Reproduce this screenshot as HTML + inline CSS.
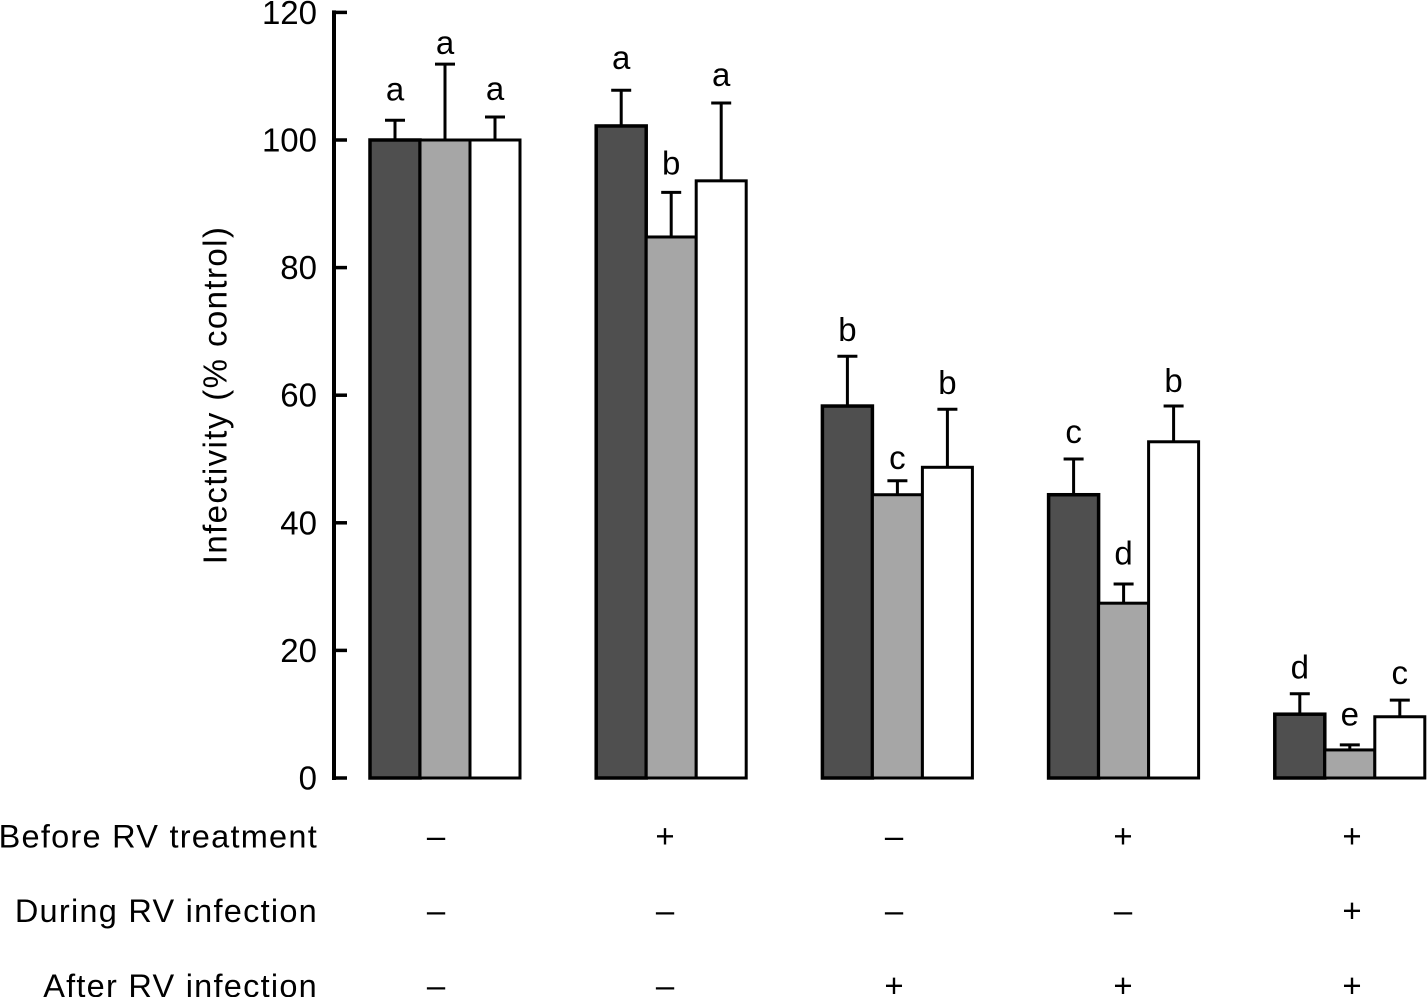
<!DOCTYPE html>
<html lang="en">
<head>
<meta charset="utf-8">
<title>Infectivity chart</title>
<style>
html,body{margin:0;padding:0;background:#fff;width:1427px;height:997px;overflow:hidden}
svg{display:block}
text{font-family:"Liberation Sans",sans-serif;fill:#000}
</style>
</head>
<body>
<svg id="chart" width="1427" height="997" viewBox="0 0 1427 997" xmlns="http://www.w3.org/2000/svg"></svg>
<script>
const yTicks = [0, 20, 40, 60, 80, 100, 120];
const seriesNames = ['dark', 'grey', 'white'];
const seriesA = [100, 102.2, 58.3, 44.4, 10];
const seriesB = [100, 84.8, 44.4, 27.4, 4.4];
const seriesC = [100, 93.6, 48.7, 52.7, 9.6];
const errorTopA = [103.1, 107.8, 66.1, 50, 13.2];
const errorTopB = [111.9, 91.8, 46.6, 30.4, 5.2];
const errorTopC = [103.6, 105.8, 57.8, 58.3, 12.2];
const lettersA = ['a', 'a', 'b', 'c', 'd'];
const lettersB = ['a', 'b', 'c', 'd', 'e'];
const lettersC = ['a', 'a', 'b', 'b', 'c'];
const letterLevelA = [106.2, 111.1, 68.5, 52.5, 15.6];
const letterLevelB = [113.5, 94.6, 48.4, 33.5, 8.2];
const letterLevelC = [106.3, 108.5, 60.2, 60.5, 14.7];
const rowLabels = ['Before RV treatment', 'During RV infection', 'After RV infection'];
const beforeRow = ['–', '+', '–', '+', '+'];
const duringRow = ['–', '–', '–', '–', '+'];
const afterRow = ['–', '–', '+', '+', '+'];
const yAxisTitle = 'Infectivity (% control)';

const svg = document.getElementById('chart');
const NS = 'http://www.w3.org/2000/svg';
function make(tag, attrs, parent) {
  const el = document.createElementNS(NS, tag);
  for (const k in attrs) el.setAttribute(k, attrs[k]);
  (parent || svg).appendChild(el);
  return el;
}
const yScale = v => 778 - v * 6.38;
const groupLeft = i => 370 + i * 226.2;
const barLeft = (g, s) => groupLeft(g) + s * 50;
const symbolX = i => 436 + i * 229;
const rowY = r => 847.5 + r * 74.7;

// y axis
const axisGroup = make('g', {});


const axisLine = make('line', {x1: 334, x2: 334, y1: yScale(120) - 2, y2: yScale(0) + 2, stroke: '#000', 'stroke-width': 4}, axisGroup);


yTicks.forEach(t => {
  const tick = make('line', {x1: 334, x2: 347, y1: yScale(t), y2: yScale(t), stroke: '#000', 'stroke-width': 3.5}, axisGroup);
  
  
  const label = make('text', {x: 317, y: yScale(t) + 11.5, 'text-anchor': 'end', 'font-size': 33}, axisGroup);
  
  
  label.textContent = t;
});
const title = make('text', {transform: 'translate(226.5 395) rotate(-90)', 'text-anchor': 'middle', 'font-size': 33, 'letter-spacing': '1.4'}, svg);


title.textContent = yAxisTitle;

// bars
const seriesValues = [seriesA, seriesB, seriesC];
const errorTops = [errorTopA, errorTopB, errorTopC];
const letterSets = [lettersA, lettersB, lettersC];
const letterLevels = [letterLevelA, letterLevelB, letterLevelC];
const fills = ['#4f4f4f', '#a6a6a6', '#ffffff'];
const strokeWidths = [3.5, 3, 3];
seriesNames.forEach((name, s) => {
  seriesValues[s].forEach((v, g) => {
    const x = barLeft(g, s);
    const cx = x + 25;
    const err = make('line', {x1: cx, x2: cx, y1: yScale(v), y2: yScale(errorTops[s][g]), stroke: '#000', 'stroke-width': 3});
    
    
    const cap = make('line', {x1: cx - 10, x2: cx + 10, y1: yScale(errorTops[s][g]), y2: yScale(errorTops[s][g]), stroke: '#000', 'stroke-width': 3});
    
    
    const letter = make('text', {x: cx, y: yScale(letterLevels[s][g]), 'text-anchor': 'middle', 'font-size': 33});
    
    
    letter.textContent = letterSets[s][g];
  });
});
seriesNames.forEach((name, s) => {
  seriesValues[s].forEach((v, g) => {
    const bar = make('rect', {x: barLeft(g, s), y: yScale(v), width: 50, height: yScale(0) - yScale(v), fill: fills[s], stroke: '#000', 'stroke-width': strokeWidths[s]});
    
    
  });
});

// treatment rows
const rows = [beforeRow, duringRow, afterRow];
rowLabels.forEach((label, r) => {
  const t = make('text', {x: 318, y: rowY(r), 'text-anchor': 'end', 'font-size': 32.5, 'letter-spacing': '1.25'});
  
  
  t.textContent = label;
  rows[r].forEach((sym, g) => {
    const m = make('text', {x: symbolX(g), y: rowY(r), 'text-anchor': 'middle', 'font-size': 33});
    
    
    m.textContent = sym;
  });
});
</script>
</body>
</html>
